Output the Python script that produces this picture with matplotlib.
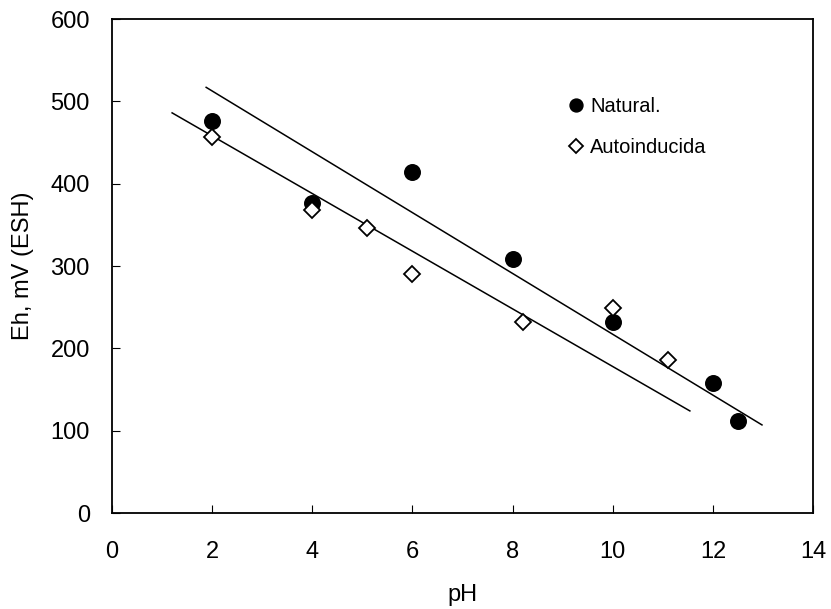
import numpy as np
import matplotlib.pyplot as plt

plt.rcParams['font.family'] = ['Liberation Sans', 'DejaVu Sans']

# datos
ph_nat = [2, 4, 6, 8, 10, 12, 12.5]
eh_nat = [476, 376, 414, 309, 232, 158, 112]
ph_auto = [2, 4, 5.1, 6, 8.2, 10, 11.1]
eh_auto = [457, 368, 346, 290, 232, 249, 186]

# rectas de ajuste (extremos)
fit_nat_x = [1.88, 12.98]
fit_nat_y = [517, 107]
fit_auto_x = [1.2, 11.54]
fit_auto_y = [486, 124]

fig = plt.figure(figsize=(8.31, 6.09), dpi=100)
ax = fig.add_axes([0.1348, 0.1576, 0.8436, 0.8112])

ax.plot(fit_nat_x, fit_nat_y, color='black', lw=1.1)
ax.plot(fit_auto_x, fit_auto_y, color='black', lw=1.1)
ax.plot(ph_nat, eh_nat, 'o', color='black', ms=11.2, ls='none', label='Natural.')
ax.plot(ph_auto, eh_auto, 'D', mfc='white', mec='black', mew=1.3, ms=8.5,
        ls='none', label='Autoinducida')

ax.set_xlim(0, 14)
ax.set_ylim(0, 600)
ax.set_xticks(np.arange(0, 15, 2))
ax.set_yticks(np.arange(0, 601, 100))
ax.tick_params(direction='in', labelsize=17, length=5.5, width=0.8)
ax.tick_params(axis='y', pad=16)
ax.tick_params(axis='x', pad=20)
for s in ax.spines.values():
    s.set_linewidth(1.3)

ax.set_xlabel('pH', fontsize=17, labelpad=15)
ax.set_ylabel('Eh, mV (ESH)', fontsize=17, labelpad=12)

leg = ax.legend(loc='upper left', bbox_to_anchor=(0.639, 0.863), frameon=False,
                fontsize=14.5, markerscale=0.83, handlelength=0.6,
                handletextpad=0.4, labelspacing=1.1, borderpad=0)

fig.savefig('out.png', dpi=100)
